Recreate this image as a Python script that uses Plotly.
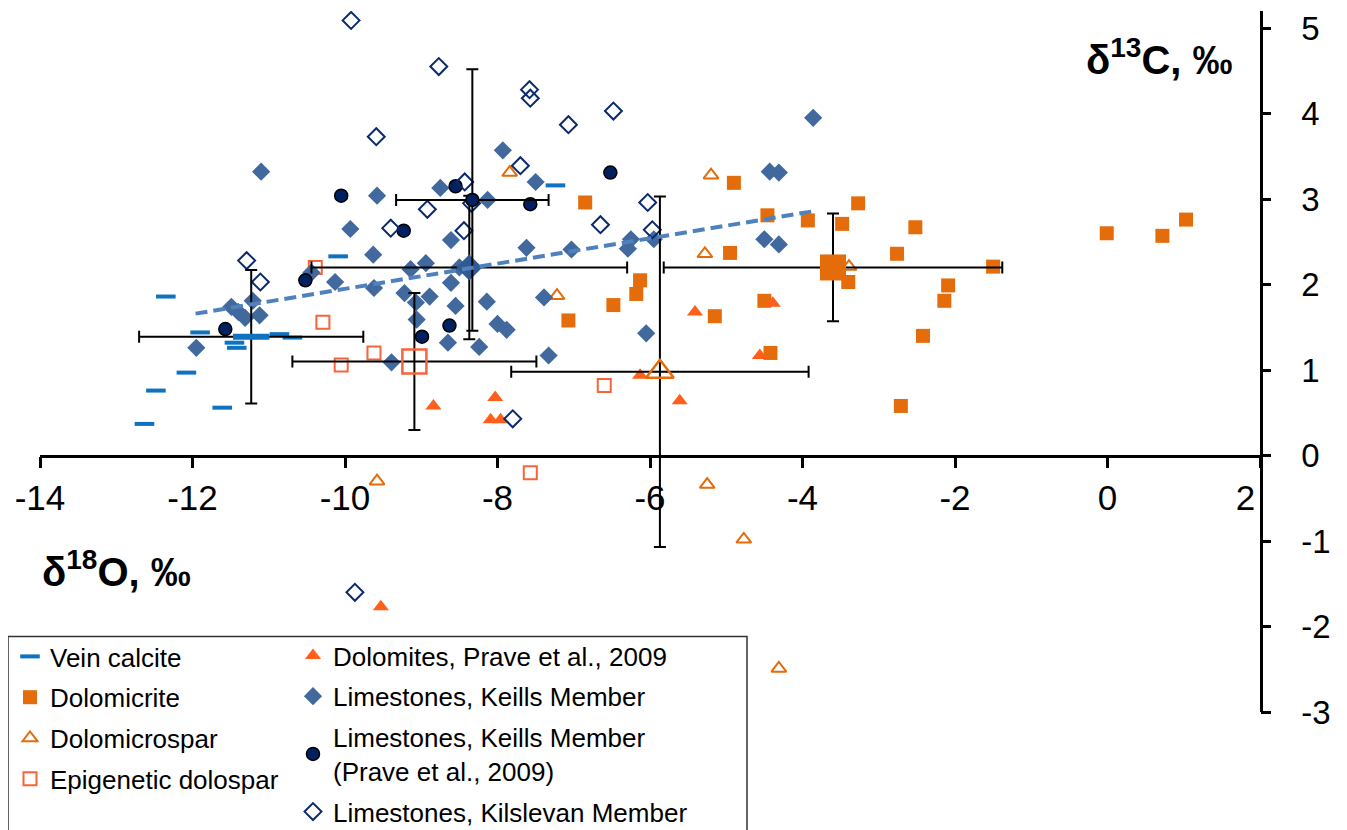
import plotly.graph_objects as go

# ---------------- data (δ18O, δ13C) ----------------
vein_x = [-10.09, -7.24, -12.35, -11.90, -10.86, -10.69, -11.45, -11.42, -12.08, -12.48, -11.61, -12.63]
vein_y = [2.33, 3.16, 1.86, 1.44, 1.42, 1.38, 1.32, 1.26, 0.97, 0.76, 0.56, 0.37]

dolomicrite_x = [-4.90, -6.85, -3.27, -4.46, -3.93, -3.48, -4.95, -2.76, -3.40, -6.13, -6.18, -6.48,
                 -7.07, -5.15, -4.50, -4.42, -2.71, -2.52, -1.50, -2.09, -2.14, -2.42, -0.01, 0.72, 1.03]
dolomicrite_y = [3.19, 2.96, 2.95, 2.81, 2.75, 2.71, 2.37, 2.36, 2.03, 2.05, 1.89, 1.76,
                 1.58, 1.63, 1.81, 1.20, 0.58, 2.67, 2.21, 1.99, 1.81, 1.40, 2.60, 2.57, 2.76]

dolomicrospar_x = [-7.84, -5.20, -5.28, -3.39, -7.22, -9.58, -5.25, -4.77, -4.31]
dolomicrospar_y = [3.31, 3.28, 2.36, 2.21, 1.87, -0.30, -0.34, -0.98, -2.49]

epigenetic_x = [-10.39, -10.29, -9.62, -10.05, -6.60, -7.57]
epigenetic_y = [2.20, 1.56, 1.20, 1.06, 0.82, -0.20]

dolomites_prave_x = [-8.84, -8.03, -8.09, -7.96, -5.41, -4.39, -4.56, -6.13, -5.61, -9.53]
dolomites_prave_y = [0.58, 0.68, 0.42, 0.42, 1.68, 1.78, 1.17, 0.94, 0.64, -1.77]

keills_x = [-11.10, -7.93, -8.75, -9.58, -8.13, -9.93, -8.61, -7.50, -3.86, -4.43, -4.31, -9.63,
            -10.44, -10.13, -9.14, -8.94, -8.61, -8.50, -9.62, -9.22, -8.89, -9.07, -8.55, -8.14,
            -11.21, -11.49, -11.12, -11.31, -11.40, -9.06, -8.00, -7.88, -8.65, -8.24, -11.95,
            -9.39, -7.62, -7.03, -6.25, -6.29, -5.95, -4.50, -4.31, -7.39, -6.05, -7.33]
keills_y = [3.32, 3.57, 3.13, 3.04, 2.99, 2.65, 2.52, 3.20, 3.95, 3.32, 3.31, 2.35,
            2.14, 2.03, 2.18, 2.25, 2.02, 2.20, 1.96, 1.90, 1.86, 1.79, 1.75, 1.80,
            1.81, 1.74, 1.64, 1.61, 1.68, 1.59, 1.54, 1.47, 1.32, 1.27, 1.26,
            1.09, 2.43, 2.41, 2.53, 2.42, 2.53, 2.53, 2.47, 1.85, 1.43, 1.17]

keills_prave_x = [-10.05, -8.55, -7.57, -6.52, -9.23, -10.52, -8.63, -8.99, -11.57]
keills_prave_y = [3.04, 3.15, 2.94, 3.31, 2.63, 2.05, 1.52, 1.39, 1.48]

kilslevan_x = [-9.92, -8.77, -9.59, -7.58, -7.57, -6.48, -7.07, -7.70, -8.43, -8.34, -8.92, -9.40,
               -8.44, -6.03, -6.65, -5.97, -11.29, -11.11, -7.80, -9.87]
kilslevan_y = [5.09, 4.55, 3.73, 4.28, 4.18, 4.03, 3.87, 3.39, 3.20, 2.95, 2.88, 2.66,
               2.63, 2.96, 2.70, 2.64, 2.28, 2.03, 0.43, -1.60]

# group means with standard deviations
vein_mean = dict(x=[-11.23], y=[1.39], ex=[1.47], ey=[0.78])
dolomicrite_mean = dict(x=[-3.60], y=[2.20], ex=[2.22], ey=[0.63])
dolomicrospar_mean = dict(x=[-5.87], y=[0.98], ex=[1.95], ey=[2.05])
epigenetic_mean = dict(x=[-9.09], y=[1.10], ex=[1.60], ey=[0.80])
keills_mean = dict(x=[-8.37], y=[2.20], ex=[2.07], ey=[0.84])
keills_prave_mean = dict(x=[-8.33], y=[2.99], ex=[1.00], ey=[1.53])

# linear trend (Keills limestones)
trend_x = [-11.96, -3.84]
trend_y = [1.66, 2.86]

NB = "\u00a0"
x_ticks = [-14, -12, -10, -8, -6, -4, -2, 0, 2]
x_tick_labels = ["-14", "-12", "-10", "-8", "-6", "-4", "-2", "0", "2" + NB * 3]
y_ticks = [-3, -2, -1, 0, 1, 2, 3, 4, 5]
y_tick_labels = ["-3", "-2", "-1", "0", "1", "2", "3", "4", "5"]

# ---------------- styling ----------------
FONT = "Liberation Sans, Arial, sans-serif"
C_VEIN = "#0E72C0"
C_DOLMIC = "#E46C0A"
C_EPI = "#F7643B"
C_DPRAVE = "#FF5F1A"
C_KEILLS = "#41699E"
C_NAVY = "#002060"
C_KIL = "#0A2A6E"

OFF = 8                      # page body margin
W, H = 1339, 822
L, R, T, B = 32, 87, 3, 117.5
PW, PH = W - L - R, H - T - B

def px_x(s):  # screen pixel -> paper x
    return (s - OFF - L) / PW

def px_y(s):  # screen pixel -> paper y
    return (H - B - (s - OFF)) / PH

fig = go.Figure()

def pts(x, y, name, marker, legend, group):
    fig.add_trace(go.Scatter(x=x, y=y, mode="markers", name=name, marker=marker,
                             legend=legend, legendgroup=group, hoverinfo="x+y"))

pts(vein_x, vein_y, "Vein calcite",
    dict(symbol="line-ew", size=14, color=C_VEIN, line=dict(width=4, color=C_VEIN)), "legend", "g1")
pts(dolomicrite_x, dolomicrite_y, "Dolomicrite",
    dict(symbol="square", size=14, color=C_DOLMIC, line=dict(width=0)), "legend", "g2")
pts(dolomicrospar_x, dolomicrospar_y, "Dolomicrospar",
    dict(symbol="triangle-up-open", size=13, color=C_DOLMIC, line=dict(width=2, color=C_DOLMIC)), "legend", "g3")
pts(epigenetic_x, epigenetic_y, "Epigenetic dolospar",
    dict(symbol="square-open", size=13, color=C_EPI, line=dict(width=2, color=C_EPI)), "legend", "g4")
pts(dolomites_prave_x, dolomites_prave_y, "Dolomites, Prave et al., 2009",
    dict(symbol="triangle-up", size=14, color=C_DPRAVE, line=dict(width=0)), "legend2", "g5")
pts(keills_x, keills_y, "Limestones, Keills Member",
    dict(symbol="diamond", size=14, color=C_KEILLS, line=dict(width=0)), "legend2", "g6")
pts(keills_prave_x, keills_prave_y, "Limestones, Keills Member<br>(Prave et al., 2009)",
    dict(symbol="circle", size=13, color=C_NAVY, line=dict(width=1.5, color="black")), "legend2", "g7")
pts(kilslevan_x, kilslevan_y, "Limestones, Kilslevan Member",
    dict(symbol="diamond-open", size=13, color=C_KIL, line=dict(width=2, color=C_KIL)), "legend2", "g8")

def mean(m, marker):
    fig.add_trace(go.Scatter(
        x=m["x"], y=m["y"], mode="markers", showlegend=False, marker=marker,
        error_x=dict(type="data", array=m["ex"], color="black", thickness=2, width=6),
        error_y=dict(type="data", array=m["ey"], color="black", thickness=2, width=6)))

mean(vein_mean, dict(symbol="line-ew", size=26, color=C_VEIN, line=dict(width=6, color=C_VEIN)))
mean(dolomicrite_mean, dict(symbol="square", size=26, color=C_DOLMIC, line=dict(width=0)))
mean(dolomicrospar_mean, dict(symbol="triangle-up-open", size=24, color=C_DOLMIC, line=dict(width=2.5, color=C_DOLMIC)))
mean(epigenetic_mean, dict(symbol="square-open", size=24, color=C_EPI, line=dict(width=2.5, color=C_EPI)))
mean(keills_mean, dict(symbol="diamond", size=20, color="#2F5A92", line=dict(width=0)))
mean(keills_prave_mean, dict(symbol="circle", size=13, color=C_NAVY, line=dict(width=1.5, color="black")))

# trend line on the overlay axis (same range) so it is drawn on top and the tick axis renders
fig.add_trace(go.Scatter(x=trend_x, y=trend_y, mode="lines", showlegend=False, yaxis="y2",
                         line=dict(color="#4F81BD", width=4, dash="12px,6px")))

Y_MIN, Y_MAX = -3, 5.2

legend_common = dict(xanchor="left", yanchor="top", xref="container", yref="container",
                     bgcolor="rgba(0,0,0,0)", borderwidth=0,
                     font=dict(family=FONT, size=26, color="black"),
                     tracegroupgap=4, itemsizing="trace")

fig.update_layout(
    width=W, height=H,
    margin=dict(l=L, r=R, t=T, b=B, autoexpand=False),
    paper_bgcolor="white", plot_bgcolor="white",
    font=dict(family=FONT, color="black"),
    xaxis=dict(range=[-14, 2], anchor="free", position=(0 - Y_MIN) / (Y_MAX - Y_MIN),
               automargin=False,
               showgrid=False, zeroline=False, showline=True, linecolor="black", linewidth=2.5,
               ticks="outside", ticklen=11, tickwidth=2.5, tickcolor="black",
               tickvals=x_ticks, ticktext=x_tick_labels,
               tickfont=dict(family=FONT, size=35, color="black")),
    # labelled axis: invisible long ticks push the labels away from the axis line
    yaxis=dict(range=[Y_MIN, Y_MAX], side="right", anchor="x", automargin=False,
               showgrid=False, zeroline=False, showline=True, linecolor="black", linewidth=2.5,
               ticks="outside", ticklen=32, tickwidth=1, tickcolor="rgba(0,0,0,0)",
               tickvals=y_ticks, ticktext=y_tick_labels,
               tickfont=dict(family=FONT, size=33, color="black")),
    # overlay axis: the visible short tick marks
    yaxis2=dict(range=[Y_MIN, Y_MAX], side="right", anchor="x", overlaying="y", automargin=False,
                showgrid=False, zeroline=False, showline=False,
                ticks="outside", ticklen=10, tickwidth=2.5, tickcolor="black",
                tickvals=y_ticks, showticklabels=False),
    legend=dict(x=(10 - OFF) / W, y=1 - (633 - OFF) / H, **legend_common),
    legend2=dict(x=(293 - OFF) / W, y=1 - (632 - OFF) / H, **legend_common),
    shapes=[dict(type="rect", xref="paper", yref="paper",
                 x0=px_x(8), x1=px_x(747), y0=px_y(845), y1=px_y(637),
                 line=dict(color="#333333", width=1.5), fillcolor="rgba(0,0,0,0)", layer="below")],
    annotations=[
        dict(text="<b>δ<sup>13</sup>C, ‰</b>", xref="paper", yref="paper",
             x=px_x(1235), y=px_y(57), xanchor="right", yanchor="middle",
             showarrow=False, font=dict(family=FONT, size=40, color="black")),
        dict(text="<b>δ<sup>18</sup>O, ‰</b>", xref="paper", yref="paper",
             x=px_x(40), y=px_y(569), xanchor="left", yanchor="middle",
             showarrow=False, font=dict(family=FONT, size=40, color="black")),
    ],
)

fig.write_html("out.html")
